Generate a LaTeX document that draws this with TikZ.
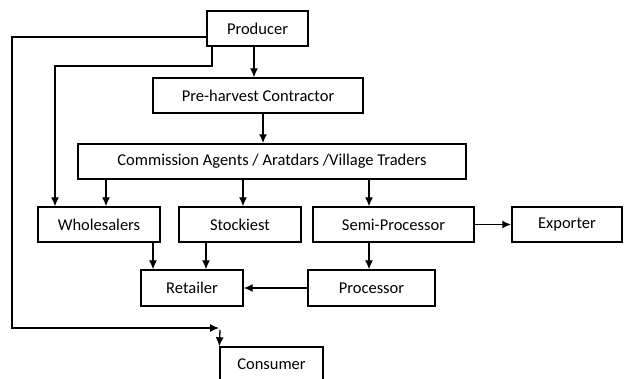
\documentclass[tikz,border=0pt]{standalone}
\usepackage{fontspec}
\setmainfont{Carlito}
\usetikzlibrary{arrows.meta,calc}
\begin{document}
\begin{tikzpicture}[x=1pt,y=-1pt,
 box/.style={draw,line width=1.4pt,rectangle,minimum height=35pt,inner sep=0pt,font=\fontsize{16.5}{19}\selectfont},
 arr/.style={line width=1.3pt,-{Latex[length=9pt,width=8pt]}},
 tarr/.style={line width=1.9pt,-{Latex[length=9pt,width=8pt]}}]
\useasboundingbox (0,0) rectangle (628,379);
\fill[white] (0,0) rectangle (628,379);
\clip (0,0) rectangle (628,379);
\node[box,minimum width=101pt] (prod) at (257.5,28.5) {Producer};
\node[box,minimum width=210pt] (pre) at (258,95.5) {Pre-harvest Contractor};
\node[box,minimum width=388pt] (comm) at (272,161.5) {Commission Agents / Aratdars /Village Traders};
\node[box,minimum width=122pt] (whole) at (99,224.5) {Wholesalers};
\node[box,minimum width=122pt] (stock) at (240,224.5) {Stockiest};
\node[box,minimum width=161pt] (semi) at (393.5,224.5) {Semi-Processor};
\node[box,minimum width=110pt] (exp) at (567,224.5) {Exporter};
\node[box,minimum width=102pt,minimum height=36pt] (ret) at (192,288) {Retailer};
\node[box,minimum width=127pt,minimum height=36pt] (proc) at (371.5,288) {Processor};
\node[box,minimum width=103pt] (cons) at (271.5,364.5) {Consumer};
\coordinate (c254) at (254,0);
\coordinate (c263) at (263,0);
\coordinate (c212) at (212,0);
\coordinate (w1) at (55,66);
\coordinate (c106) at (106,0);
\coordinate (c243) at (243,0);
\coordinate (c369) at (369,0);
\coordinate (c153) at (153,0);
\coordinate (c206) at (206,0);
\coordinate (p1) at (12,37);
\coordinate (p2) at (219,328);
\coordinate (p3) at (220,330);
\draw[arr] (prod.south -| c254) -- (pre.north -| c254);
\draw[tarr] (pre.south -| c263) -- (comm.north -| c263);
\draw[arr] (prod.south -| c212) |- (w1) -- (whole.north -| w1);
\draw[arr] (prod.west |- p1) -- (p1) -- (p1 |- p2) -- (p2);
\draw[arr] (p3) -- (cons.north west);
\draw[arr] (comm.south -| c106) -- (whole.north -| c106);
\draw[arr] (comm.south -| c243) -- (stock.north -| c243);
\draw[arr] (comm.south -| c369) -- (semi.north -| c369);
\draw[tarr] (semi.east) -- (exp.west);
\draw[arr] (semi.south -| c369) -- (proc.north -| c369);
\draw[arr] (whole.south -| c153) -- (ret.north -| c153);
\draw[arr] (stock.south -| c206) -- (ret.north -| c206);
\draw[arr] (proc.west) -- (ret.east);
\end{tikzpicture}
\end{document}
